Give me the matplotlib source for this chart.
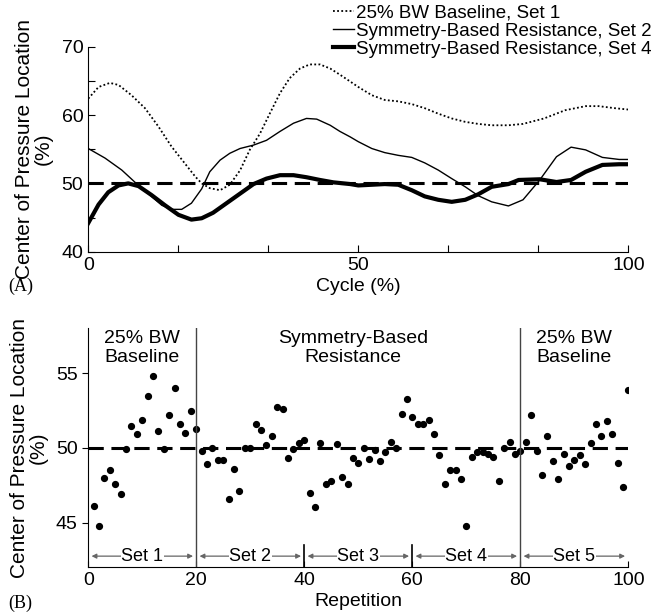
import matplotlib.pyplot as plt
from matplotlib.ticker import MultipleLocator, FixedLocator

plt.rcParams['font.family'] = ['Liberation Sans', 'DejaVu Sans']

# --- panel A: center of pressure over the cycle ---
set1_x = [0, 1.9, 4, 5.6, 8, 10.5, 13, 15.4, 17.9, 19.8, 21, 22.5, 24.4, 26.2, 28.1, 29.9,
          31.8, 33.6, 35.5, 37.3, 39.2, 41, 42.9, 44.8, 46.6, 48.5, 50, 52.5, 54.9, 57.4,
          59.9, 62.3, 64.8, 67.3, 69.8, 72.2, 74.7, 77.8, 80.5, 84.4, 88.3, 92.1, 94.5, 97.5, 100]
set1_y = [62.4, 64.1, 64.7, 64.4, 62.9, 61.0, 58.3, 55.4, 52.9, 51.0, 50.0, 49.3, 49.0, 49.8,
          51.9, 54.9, 57.3, 60.2, 63.2, 65.4, 66.8, 67.4, 67.4, 66.8, 65.9, 64.9, 64.1, 62.9,
          62.2, 62.0, 61.6, 61.0, 60.2, 59.5, 59.0, 58.7, 58.5, 58.5, 58.7, 59.5, 60.7, 61.3,
          61.3, 61.0, 60.8]

set2_x = [0, 3.1, 6.2, 8.6, 11.1, 13.6, 15.4, 17.3, 19.1, 21, 22.5, 24.4, 26.2, 28.1, 30.6,
          33, 35.5, 38, 40.4, 42.3, 44.8, 46.6, 48.5, 50, 52.5, 54.9, 57.4, 59.9, 62.3, 64.8,
          67.3, 69.8, 72.2, 74.7, 77.8, 80.5, 83.6, 86.7, 89.4, 92.1, 95.2, 98.3, 100]
set2_y = [55.1, 53.7, 51.95, 50.2, 48.5, 46.8, 46.2, 46.2, 47.1, 49.2, 51.7, 53.4, 54.4, 55.1,
          55.6, 56.3, 57.6, 58.8, 59.5, 59.4, 58.5, 57.6, 56.8, 56.1, 55.1, 54.5, 54.1, 53.8,
          53.0, 51.95, 50.7, 49.5, 48.2, 47.3, 46.7, 47.6, 50.5, 53.9, 55.3, 54.9, 53.8, 53.5, 53.5]

set4_x = [0, 1.9, 3.7, 5.6, 7.4, 9.3, 11.7, 14.2, 16.7, 19.1, 21, 23.1, 25.6, 28.1, 30.6, 33,
          35.5, 38, 40.4, 42.9, 45.4, 48.5, 50, 52.5, 54.9, 57.4, 59.9, 62.3, 64.8, 67.3, 69.8,
          72.2, 74.7, 77.8, 79.7, 83.6, 86.7, 89.4, 92.1, 95.2, 98.3, 100]
set4_y = [44.2, 46.9, 48.7, 49.7, 50.0, 49.6, 48.3, 46.8, 45.4, 44.7, 44.9, 45.7, 47.1, 48.5,
          49.9, 50.7, 51.2, 51.2, 50.9, 50.5, 50.15, 49.9, 49.7, 49.8, 49.9, 49.8, 49.0, 48.1,
          47.6, 47.3, 47.6, 48.4, 49.5, 49.9, 50.5, 50.6, 50.2, 50.5, 51.7, 52.7, 52.8, 52.8]

# --- panel B: mean center of pressure per repetition ---
reps = list(range(1, 101))
cop = [46.1, 44.8, 48.0, 48.5, 47.6, 46.9, 49.9, 51.45, 50.9, 51.9,
       53.5, 54.8, 51.1, 49.9, 52.2, 54.0, 51.6, 51.0, 52.5, 51.3,
       49.8, 48.95, 50.0, 49.2, 49.2, 46.6, 48.6, 47.1, 50.0, 50.0,
       51.6, 51.2, 50.2, 50.8, 52.75, 52.6, 49.3, 49.9, 50.3, 50.5,
       47.0, 46.05, 50.3, 47.6, 47.8, 50.25, 48.05, 47.6, 49.3, 49.0,
       50.0, 49.25, 49.85, 49.1, 49.7, 50.4, 50.0, 52.3, 53.3, 52.1,
       51.6, 51.6, 51.9, 50.9, 49.5, 47.6, 48.5, 48.5, 47.9, 44.8,
       49.4, 49.7, 49.7, 49.6, 49.4, 47.8, 50.0, 50.4, 49.6, 49.8,
       50.4, 52.2, 49.8, 48.2, 50.8, 49.1, 47.9, 49.6, 48.8, 49.2,
       49.55, 48.95, 50.3, 51.6, 50.8, 51.8, 50.9, 49.0, 47.4, 53.9]

set_edges = [0, 20, 40, 60, 80, 100]
set_names = ['Set 1', 'Set 2', 'Set 3', 'Set 4', 'Set 5']
phase_x = [10, 49, 90]
phase_names = ['25% BW\nBaseline', 'Symmetry-Based\nResistance', '25% BW\nBaseline']

fig = plt.figure(figsize=(6.53, 6.14), dpi=100)

# ---------------- panel A ----------------
ax1 = fig.add_axes([0.1352, 0.590, 0.827, 0.334])
ax1.plot(set1_x, set1_y, color='black', lw=1.3, linestyle=(0, (1, 1.3)),
         label='25% BW Baseline, Set 1')
ax1.plot(set2_x, set2_y, color='black', lw=1.0, label='Symmetry-Based Resistance, Set 2')
ax1.plot(set4_x, set4_y, color='black', lw=3.0, label='Symmetry-Based Resistance, Set 4')
ax1.plot([0, 100], [50, 50], color='black', lw=2.2, linestyle=(0, (5, 2.5)))

ax1.set_xlim(0, 100)
ax1.set_ylim(40, 70)
ax1.set_xticks([0, 50, 100])
ax1.xaxis.set_minor_locator(FixedLocator([100 / 6, 200 / 6, 400 / 6, 500 / 6]))
ax1.set_yticks([40, 50, 60, 70])
ax1.yaxis.set_minor_locator(MultipleLocator(5))
ax1.tick_params(which='both', direction='in', labelsize=14, length=5, width=0.8)
for s in ['top', 'right']:
    ax1.spines[s].set_visible(False)
ax1.set_xlabel('Cycle (%)', fontsize=14, labelpad=3)
ax1.set_ylabel('Center of Pressure Location\n(%)', fontsize=15, labelpad=6, linespacing=1.0)

fig.legend(loc='upper right', bbox_to_anchor=(1.01, 1.005), frameon=False, fontsize=13.5,
           handlelength=1.1, handletextpad=0.15, labelspacing=0.05, borderaxespad=0)

fig.text(0.012, 0.533, '(A)', fontsize=13, family=['Liberation Serif', 'DejaVu Serif'],
         va='center')

# ---------------- panel B ----------------
ax2 = fig.add_axes([0.1352, 0.076, 0.827, 0.389])
ax2.plot(reps, cop, 'o', color='black', markersize=4.2)
ax2.plot([0, 100], [50, 50], color='black', lw=2.2, linestyle=(0, (5, 2.5)))

ax2.set_xlim(0, 100)
ax2.set_ylim(42, 58)
ax2.set_xticks([0, 20, 40, 60, 80, 100])
ax2.set_yticks([45, 50, 55])
ax2.tick_params(axis='x', direction='in', labelsize=14, length=4)
ax2.tick_params(axis='y', direction='out', labelsize=14, length=4)
for s in ['top', 'right']:
    ax2.spines[s].set_visible(False)
ax2.set_xlabel('Repetition', fontsize=14, labelpad=3)
ax2.set_ylabel('Center of Pressure Location\n(%)', fontsize=15, labelpad=6, linespacing=1.0)

# phase boundaries (full height) and set boundaries (short)
for xb in [20, 80]:
    ax2.plot([xb, xb], [42, 58], color='#444444', lw=1.0)
for xb in [40, 60]:
    ax2.plot([xb, xb], [42, 43.5], color='black', lw=1.2)

# set arrows along the bottom
for i, name in enumerate(set_names):
    x0 = set_edges[i] + 0.6
    x1 = set_edges[i + 1] - 0.6
    ax2.annotate('', xy=(x0, 42.75), xytext=(x1, 42.75),
                 arrowprops=dict(arrowstyle='<|-|>', color='#666666', lw=0.9,
                                 mutation_scale=7, shrinkA=0, shrinkB=0))
    ax2.text((x0 + x1) / 2, 42.75, name, fontsize=13, ha='center', va='center',
             bbox=dict(facecolor='white', edgecolor='none', pad=0.5))

for px, pname in zip(phase_x, phase_names):
    ax2.text(px, 56.7, pname, fontsize=14, ha='center', va='center', linespacing=1.1)

fig.text(0.012, 0.018, '(B)', fontsize=13, family=['Liberation Serif', 'DejaVu Serif'],
         va='center')

plt.savefig('out.png', dpi=100)
